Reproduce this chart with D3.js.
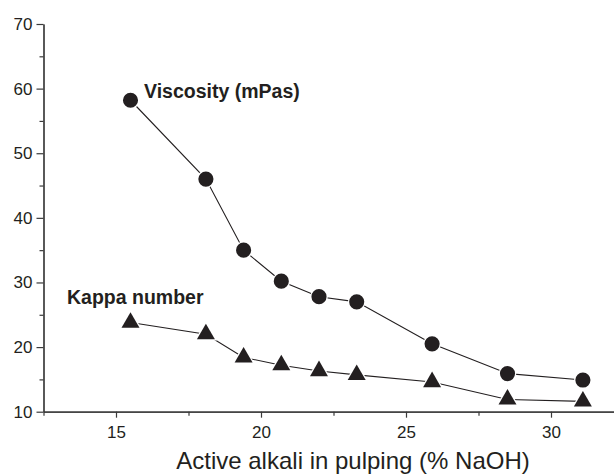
<!DOCTYPE html>
<html>
<head>
<meta charset="utf-8">
<script src="https://cdn.jsdelivr.net/npm/d3@7"></script>
<style>
    body { margin: 0; background: #fff; }
    svg { display: block; font-family: "Liberation Sans", Arial, sans-serif; }
</style>
</head>
<body>
<svg id="chart" width="614" height="476"></svg>
<script>
"use strict";

// data
const activeAlkali = [15.5, 18.1, 19.4, 20.7, 22.0, 23.3, 25.9, 28.5, 31.1];
const viscosity = [58.2, 46.0, 35.0, 30.2, 27.8, 27.0, 20.5, 15.9, 14.9];
const kappaNumber = [23.8, 22.0, 18.4, 17.2, 16.3, 15.7, 14.6, 11.9, 11.6];
const xMajorTicks = [15, 20, 25, 30];
const xMinorTicks = [12.5, 17.5, 22.5, 27.5, 32.5];
const yMajorTicks = [10, 20, 30, 40, 50, 60, 70];
const yMinorTicks = [15, 25, 35, 45, 55, 65];

const ink = "#231f20";
const fontFamily = "'Liberation Sans', Arial, sans-serif";
const svg = d3.select("#chart");

const x = d3.scaleLinear().domain([12.5, 32.5]).range([43.5, 623.5]);
const y = d3.scaleLinear().domain([10, 70]).range([411.7, 24]);
const x0 = x.range()[0];
const y0 = y.range()[0];

/**
 * Draws one axis with major labelled ticks and shorter unlabelled minor ticks.
 */
const drawAxis = (axisFn, scale, transform, major, minor, majorLen, minorLen) => {
    svg.append("g")
        .attr("transform", transform)
        .call(axisFn(scale).tickValues(minor).tickFormat("").tickSize(minorLen).tickSizeOuter(0));
    const g = svg.append("g")
        .attr("transform", transform)
        .call(axisFn(scale).tickValues(major).tickFormat(d3.format("d")).tickSize(majorLen).tickSizeOuter(0).tickPadding(4))
        .attr("font-family", fontFamily)
        .attr("font-size", 17);
    svg.selectAll("g line, g path.domain")
        .attr("stroke", "#3a3a3a")
        .attr("stroke-width", 1.2);
    g.selectAll("text").attr("fill", ink);
    return g;
};

drawAxis(d3.axisLeft, y, `translate(${x0},0)`, yMajorTicks, yMinorTicks, 7, 4);
drawAxis(d3.axisBottom, x, `translate(0,${y0})`, xMajorTicks, xMinorTicks, 6, 4)
    .selectAll("text").attr("dy", "0.95em");

svg.append("text")
    .attr("x", 353)
    .attr("y", 469)
    .attr("text-anchor", "middle")
    .attr("fill", ink)
    .style("font-size", "24px")
    .text("Active alkali in pulping (% NaOH)");

const series = [
    { name: "Viscosity (mPas)", values: viscosity, shape: d3.symbolCircle, size: 180, label: [144, 98] },
    { name: "Kappa number", values: kappaNumber, shape: d3.symbolTriangle, size: 140, label: [67, 304] }
];

const line = d3.line()
    .x((d) => x(d[0]))
    .y((d) => y(d[1]));

series.forEach((s) => {
    const pts = activeAlkali.map((a, i) => [a, s.values[i]]);
    const g = svg.append("g");
    g.append("path")
        .datum(pts)
        .attr("d", line)
        .attr("fill", "none")
        .attr("stroke", ink)
        .attr("stroke-width", 1.1);
    g.selectAll("path.marker")
        .data(pts)
        .join("path")
        .attr("class", "marker")
        .attr("transform", (d) => `translate(${x(d[0])},${y(d[1])})`)
        .attr("d", d3.symbol().type(s.shape).size(s.size))
        .attr("fill", ink)
        .attr("stroke", "#fff")
        .attr("stroke-width", 2.5)
        .attr("paint-order", "stroke");
    svg.append("text")
        .attr("x", s.label[0])
        .attr("y", s.label[1])
        .attr("fill", ink)
        .style("font-size", "19.5px")
        .style("font-weight", "bold")
        .text(s.name);
});
</script>
</body>
</html>
